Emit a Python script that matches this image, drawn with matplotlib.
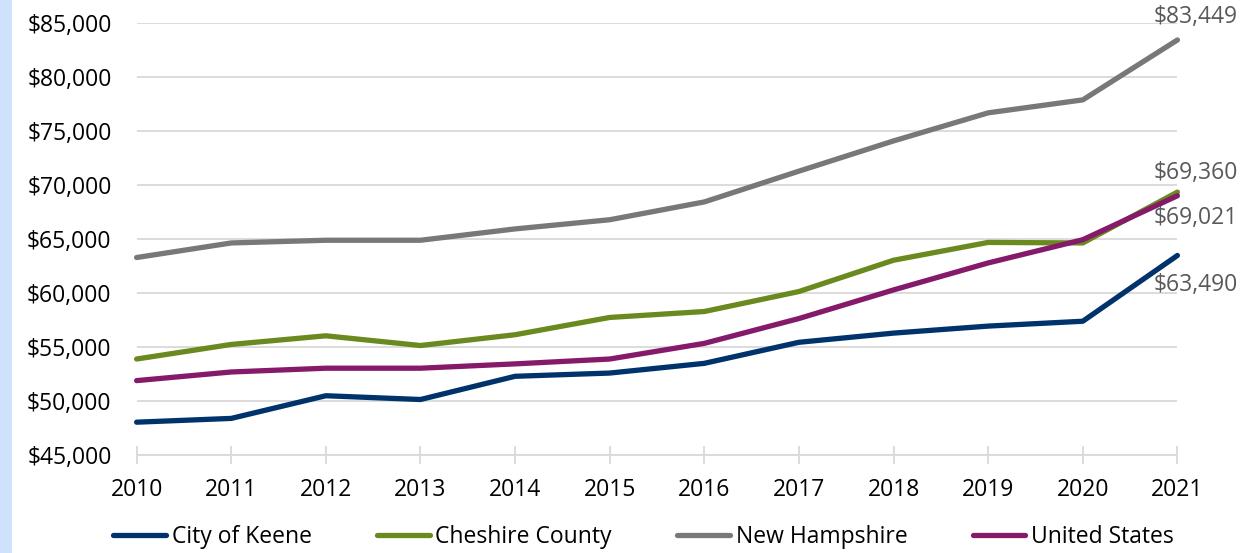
import matplotlib
matplotlib.use("Agg")
import matplotlib.pyplot as plt
from matplotlib.ticker import FuncFormatter
from matplotlib.patches import Rectangle

plt.rcParams['font.family'] = ['Open Sans', 'DejaVu Sans']

# Data
years = [2010, 2011, 2012, 2013, 2014, 2015, 2016, 2017, 2018, 2019, 2020, 2021]
keene = [48050, 48400, 50500, 50150, 52300, 52600, 53500, 55450, 56300, 56950, 57400, 63490]
cheshire = [53900, 55250, 56050, 55150, 56150, 57750, 58300, 60150, 63050, 64700, 64650, 69360]
new_hampshire = [63300, 64650, 64900, 64900, 65950, 66800, 68450, 71300, 74100, 76700, 77900, 83449]
united_states = [51900, 52700, 53050, 53050, 53450, 53900, 55350, 57650, 60300, 62800, 64950, 69021]

series_names = ["City of Keene", "Cheshire County", "New Hampshire", "United States"]
series_colors = ["#00336b", "#6a8a1f", "#7a777b", "#861a6a"]

fig = plt.figure(figsize=(12.42, 5.53), dpi=100)
ax = fig.add_axes([0.110, 0.177, 0.838, 0.781])

# light blue strip on the left edge
fig.patches.append(Rectangle((0, 0), 12 / 1242, 1, transform=fig.transFigure,
                             facecolor="#cfe2fb", edgecolor="none"))

all_series = [keene, cheshire, new_hampshire, united_states]
for vals, name, col in zip(all_series, series_names, series_colors):
    ax.plot(years, vals, color=col, lw=3.8, label=name, clip_on=False,
            solid_capstyle="round", zorder=3)

# end labels (offsets in pixels, positive = up)
label_offsets = {"Cheshire County": 19, "New Hampshire": 23,
                 "United States": -22, "City of Keene": -30}
for vals, name in zip(all_series, series_names):
    ax.annotate("${:,}".format(vals[-1]), (years[-1], vals[-1]),
                xytext=(18, label_offsets[name]), textcoords="offset pixels",
                ha="center", va="center", fontsize=16.5, color="#595959")

ax.set_xlim(2010, 2021)
ax.set_ylim(45000, 85000)
ax.set_xticks(years)
ax.set_yticks(range(45000, 85001, 5000))
ax.yaxis.set_major_formatter(FuncFormatter(lambda v, p: "${:,.0f}".format(v)))

ax.grid(axis="y", color="#d9d9d9", lw=1.3, zorder=0)
for s in ["left", "right", "top"]:
    ax.spines[s].set_visible(False)
ax.spines["bottom"].set_color("#d9d9d9")
ax.spines["bottom"].set_linewidth(1.3)
ax.tick_params(axis="x", direction="inout", length=13, width=1.3,
               color="#d9d9d9", labelsize=16.5, pad=10)
ax.tick_params(axis="y", length=0, labelsize=16.5, pad=18)

ax.legend(loc="center", bbox_to_anchor=(0.487, -0.19), ncol=4,
          frameon=False, fontsize=16.5, borderpad=0, handlelength=2.3,
          handletextpad=0.25, columnspacing=2.85)

fig.savefig("out.png", dpi=100)
